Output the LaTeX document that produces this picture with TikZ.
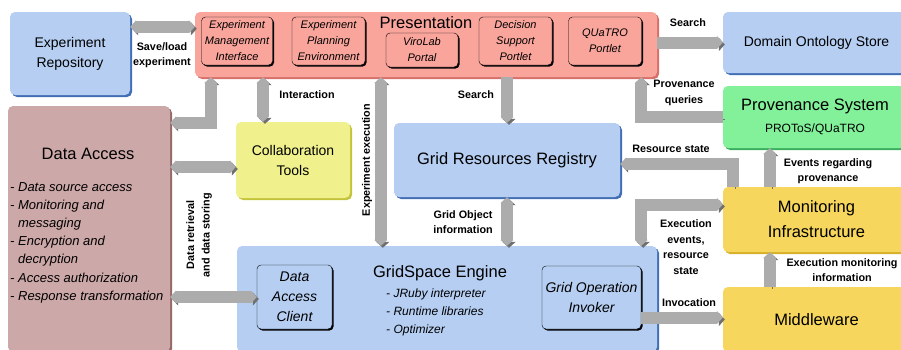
\documentclass[tikz,border=0pt]{standalone}
\usepackage{fontspec}
\setmainfont{Liberation Sans}
\usepackage{tikz}
\usetikzlibrary{calc}
\usetikzlibrary{positioning}
\usetikzlibrary{arrows.meta}
\usetikzlibrary{shadows}

\definecolor{boxblue}{RGB}{181,206,242}
\definecolor{boxblueshade}{RGB}{66,110,180}
\definecolor{boxsalmon}{RGB}{249,165,156}
\definecolor{boxsalmonshade}{RGB}{214,112,106}
\definecolor{boxmauve}{RGB}{205,168,168}
\definecolor{boxmauveshade}{RGB}{150,105,105}
\definecolor{boxlemon}{RGB}{240,241,140}
\definecolor{boxlemonshade}{RGB}{196,196,60}
\definecolor{boxgreen}{RGB}{130,241,154}
\definecolor{boxgreenshade}{RGB}{60,175,95}
\definecolor{boxgold}{RGB}{246,214,92}
\definecolor{boxgoldshade}{RGB}{214,176,40}
\definecolor{flowgray}{RGB}{172,172,172}
\definecolor{flowshade}{RGB}{112,112,112}

\tikzset{
	>={Triangle[length=6pt,width=13pt]},
	module/.style={
		rectangle,
		rounded corners=5pt,
		inner sep=0pt,
		align=center,
		font=\fontsize{14}{20}\selectfont},
	bluebox/.style={module, fill=boxblue,
		drop shadow={shadow xshift=2pt, shadow yshift=-2pt, fill=boxblueshade, opacity=1}},
	salmonbox/.style={module, fill=boxsalmon,
		drop shadow={shadow xshift=2pt, shadow yshift=-2pt, fill=boxsalmonshade, opacity=1}},
	mauvebox/.style={module, fill=boxmauve,
		drop shadow={shadow xshift=2pt, shadow yshift=-2pt, fill=boxmauveshade, opacity=1}},
	lemonbox/.style={module, fill=boxlemon,
		drop shadow={shadow xshift=2pt, shadow yshift=-2pt, fill=boxlemonshade, opacity=1}},
	greenbox/.style={module, fill=boxgreen,
		drop shadow={shadow xshift=2pt, shadow yshift=-2pt, fill=boxgreenshade, opacity=1}},
	goldbox/.style={module, fill=boxgold,
		drop shadow={shadow xshift=2pt, shadow yshift=-2pt, fill=boxgoldshade, opacity=1}},
	bigtext/.style={font=\fontsize{16.5}{25}\selectfont},
	portlet/.style={
		rectangle,
		rounded corners=4pt,
		draw=black,
		inner sep=0pt,
		align=center,
		font=\fontsize{11}{16}\selectfont\itshape,
		drop shadow={shadow xshift=1.5pt, shadow yshift=-1.5pt, fill=black, opacity=1}},
	itemlist/.style={inner sep=0pt, align=left, anchor=north west},
	flow/.style={draw=flowgray, line width=12pt,
		preaction={draw=flowshade, transform canvas={shift={(2pt,-2pt)}}}},
	flowlabel/.style={inner sep=0pt, align=center,
		font=\fontsize{10.8}{15.5}\selectfont\bfseries},
}

\begin{document}
\begin{tikzpicture}[x=1pt, y=-1pt]
	\useasboundingbox (0,0) rectangle (901,349);

	% top row
	\node[bluebox, minimum width=120pt, minimum height=83pt] (exprepo) at (70,53.5) {Experiment\\Repository};
	\node[salmonbox, minimum width=462pt, minimum height=65pt] (pres) at (426,44.5) {};
	\node[inner sep=0pt, font=\fontsize{16.5}{20}\selectfont] (presname) at (426,23) {Presentation};
	\node[portlet, fill=boxsalmon, minimum width=71pt, minimum height=48pt] (emi) at (237,41) {Experiment\\Management\\Interface};
	\node[portlet, fill=boxsalmon, minimum width=73pt, minimum height=48pt] (epe) at (328.5,41) {Experiment\\Planning\\Environment};
	\node[portlet, fill=boxsalmon, minimum width=72pt, minimum height=34pt] (viro) at (422,50) {ViroLab\\Portal};
	\node[portlet, fill=boxsalmon, minimum width=73pt, minimum height=48pt] (dsp) at (515.5,41) {Decision\\Support\\Portlet};
	\node[portlet, fill=boxsalmon, minimum width=73pt, minimum height=48pt] (quatro) at (605,41) {QUaTRO\\Portlet};
	\node[bluebox, minimum width=187pt, minimum height=61pt] (ontology) at (816.5,42.5) {Domain Ontology Store};
	\node[greenbox, minimum width=187pt, minimum height=62pt] (prov) at (816.5,117) {};
	\node[inner sep=0pt, font=\fontsize{16.5}{20}\selectfont] (provname) at (815,106) {Provenance System};
	\node[inner sep=0pt, font=\fontsize{12}{14}\selectfont] (provsub) at (815,129) {PROToS/QUaTRO};

	% middle and bottom
	\node[mauvebox, minimum width=162pt, minimum height=246pt] (dataacc) at (89,229) {};
	\node[inner sep=0pt, font=\fontsize{16.5}{20}\selectfont] (dataaccname) at (88,154) {Data Access};
	\node[itemlist, font=\fontsize{13}{18.2}\selectfont\itshape] (dataacclist) at (10,182) {- Data source access\\- Monitoring and\\\phantom{- }messaging\\- Encryption and\\\phantom{- }decryption\\- Access authorization\\- Response transformation};
	\node[lemonbox, minimum width=114pt, minimum height=76pt] (collab) at (293,160) {Collaboration\\Tools};
	\node[bluebox, bigtext, minimum width=226pt, minimum height=74pt] (grr) at (507,160) {Grid Resources Registry};
	\node[goldbox, bigtext, minimum width=187pt, minimum height=65pt] (monitor) at (816.5,219.5) {Monitoring\\Infrastructure};
	\node[goldbox, bigtext, minimum width=187pt, minimum height=65pt] (middleware) at (816.5,319.5) {Middleware};
	\node[bluebox, minimum width=420pt, minimum height=106pt] (engine) at (447,299) {};
	\node[inner sep=0pt, font=\fontsize{16.5}{20}\selectfont] (enginename) at (440,273) {GridSpace Engine};
	\node[itemlist, font=\fontsize{12}{18}\selectfont\itshape] (enginelist) at (386,289) {- JRuby interpreter\\- Runtime libraries\\- Optimizer};
	\node[portlet, fill=boxblue, font=\fontsize{14}{20}\selectfont\itshape, minimum width=75pt, minimum height=64pt] (dac) at (294.5,297) {Data\\Access\\Client};
	\node[portlet, fill=boxblue, font=\fontsize{14}{20}\selectfont\itshape, minimum width=99pt, minimum height=63pt] (goi) at (591.5,297.5) {Grid Operation\\Invoker};

	% connectors
	\coordinate (talk) at ([xshift=-30pt]collab.north);
	\coordinate (runjob) at ([xshift=144pt]engine.north west);
	\coordinate (provask) at ([xshift=-16pt]pres.south east);
	\coordinate (share) at ([yshift=-7pt]collab.west);
	\coordinate (resstate) at ([xshift=10pt]monitor.north west);
	\coordinate (provfeed) at ([xshift=47pt]monitor.north west);
	\coordinate (execdown) at ([xshift=-16pt]engine.north east);
	\coordinate (invoke) at ([yshift=-20pt]goi.east);

	\draw[flow, <->] ([yshift=-15pt]exprepo.north east) -- ([yshift=-15pt]pres.north west);
	\draw[flow, <->] ([xshift=16pt]pres.south west) |- ([yshift=-17pt]dataacc.north east);
	\draw[flow, <->] (talk |- pres.south) -- (talk);
	\draw[flow, <->] (runjob |- pres.south) -- (runjob);
	\draw[flow, ->] (grr.north |- pres.south) -- (grr.north);
	\draw[flow, ->] (pres.east |- ontology.west) -- (ontology.west);
	\draw[flow, ->] (prov.west) -| (provask);
	\draw[flow, <->] (share -| dataacc.east) -- (share);
	\draw[flow, <->] (dac.west -| dataacc.east) -- (dac.west);
	\draw[flow, <->] (grr.south) -- (grr.south |- engine.north);
	\draw[flow, ->] (resstate) |- ([yshift=-4pt]grr.east);
	\draw[flow, ->] (provfeed) -- (provfeed |- prov.south);
	\draw[flow, <->] ([yshift=15pt]monitor.west) -| (execdown);
	\draw[flow, ->] (invoke) -- (invoke -| middleware.west);
	\draw[flow, ->] (provfeed |- middleware.north) -- (provfeed |- monitor.south);

	% connector labels
	\node[flowlabel] (saveload) at (162,55) {Save/load\\experiment};
	\node[flowlabel] (talklabel) at (307,95) {Interaction};
	\node[flowlabel, rotate=90] (runlabel) at (367,160) {Experiment execution};
	\node[flowlabel] (searchlabel) at (476,95) {Search};
	\node[flowlabel] (ontolabel) at (688,23) {Search};
	\node[flowlabel] (asklabel) at (684,93) {Provenance\\queries};
	\node[flowlabel] (statelabel) at (671,149) {Resource state};
	\node[flowlabel] (feedlabel) at (828,171) {Events regarding\\provenance};
	\node[flowlabel, rotate=90] (storelabel) at (199,235) {Data retrieval\\and data storing};
	\node[flowlabel] (objlabel) at (463,222) {Grid Object\\information};
	\node[flowlabel] (eventlabel) at (686,247) {Execution\\events,\\resource\\state};
	\node[flowlabel] (invokelabel) at (689,303) {Invocation};
	\node[flowlabel] (monlabel) at (842,270) {Execution monitoring\\information};
\end{tikzpicture}
\end{document}
